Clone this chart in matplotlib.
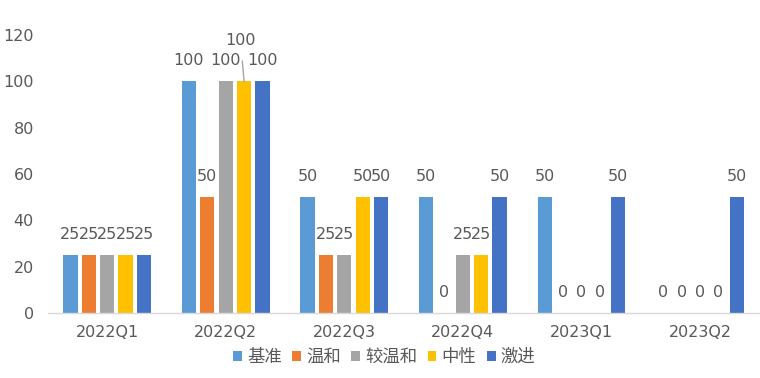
import numpy as np
import matplotlib.pyplot as plt

plt.rcParams['font.family'] = ['DejaVu Sans', 'Noto Sans CJK SC']

quarters = ['2022Q1', '2022Q2', '2022Q3', '2022Q4', '2023Q1', '2023Q2']
series = ['基准', '温和', '较温和', '中性', '激进']
jizhun = [25, 100, 50, 50, 50, 0]
wenhe = [25, 50, 25, 0, 0, 0]
jiaowenhe = [25, 100, 25, 25, 0, 0]
zhongxing = [25, 100, 50, 25, 0, 0]
jijin = [25, 100, 50, 50, 50, 50]
colors = ['#5B9BD5', '#ED7D31', '#A5A5A5', '#FFC000', '#4472C4']

values = [jizhun, wenhe, jiaowenhe, zhongxing, jijin]
txt = '#595959'
fs = 11.5

fig = plt.figure(figsize=(7.6, 3.78), dpi=100)
ax = fig.add_axes([0.063, 0.172, 0.936, 0.735])

x = np.arange(len(quarters))
step = 0.155
width = 0.12
for i, (name, vals) in enumerate(zip(series, values)):
    pos = x + (i - 2) * step
    ax.bar(pos, vals, width, color=colors[i], label=name, zorder=2)
    for j, (p, v) in enumerate(zip(pos, vals)):
        if i == 3 and j == 1:
            # this label sits higher, joined to its bar by a thin line
            ax.annotate(str(v), xy=(p, v), xytext=(p - 0.03, v + 17.5), ha='center', va='center',
                        fontsize=fs, color=txt,
                        arrowprops=dict(arrowstyle='-', color='#A6A6A6', lw=1,
                                        shrinkA=7, shrinkB=0))
            continue
        ax.text(p, v + 9, str(v), ha='center', va='center', fontsize=fs, color=txt)

ax.set_xlim(-0.5, len(quarters) - 0.5)
ax.set_ylim(0, 120)
ax.set_yticks(range(0, 121, 20))
ax.set_xticks(x)
ax.set_xticklabels(quarters)
ax.tick_params(axis='both', length=0, labelsize=fs, labelcolor=txt)
ax.tick_params(axis='x', pad=9)
ax.tick_params(axis='y', pad=10)
for s in ['top', 'right', 'left']:
    ax.spines[s].set_visible(False)
ax.spines['bottom'].set_color('#D9D9D9')
ax.spines['bottom'].set_linewidth(1)

ax.legend(loc='center', bbox_to_anchor=(0.473, -0.158), ncol=5, frameon=False,
          prop={'family': ['Noto Sans CJK SC'], 'size': 12.5}, labelcolor=txt,
          handlelength=0.5, handleheight=0.5, handletextpad=0.3, columnspacing=0.6)

fig.savefig('out.png', dpi=100)
